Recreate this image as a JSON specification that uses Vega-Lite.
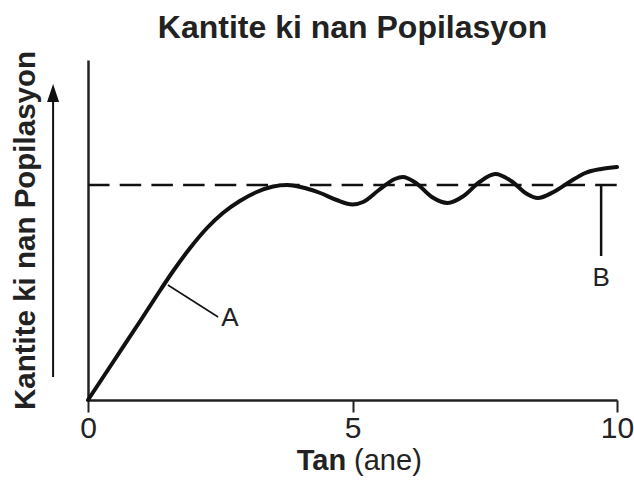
{
  "$schema": "https://vega.github.io/schema/vega-lite/v6.json",
  "autosize": "none",
  "width": 529,
  "height": 340,
  "padding": {"left": 88, "top": 60, "right": 17, "bottom": 80},
  "background": "white",
  "config": {
    "font": "Liberation Sans",
    "view": {"stroke": null},
    "title": {"color": "#222", "fontSize": 32, "fontWeight": "bold", "anchor": "middle", "offset": 6}
  },
  "title": {"text": "Kantite ki nan Popilasyon"},
  "layer": [
    {
      "data": {"values": [
        {"t": 0, "n": 0}, {"t": 0.5, "n": 40}, {"t": 1.0, "n": 80}, {"t": 1.27, "n": 102},
        {"t": 1.61, "n": 129}, {"t": 1.93, "n": 152}, {"t": 2.25, "n": 172}, {"t": 2.55, "n": 187},
        {"t": 2.87, "n": 199}, {"t": 3.19, "n": 208}, {"t": 3.5, "n": 213.5}, {"t": 3.76, "n": 215},
        {"t": 4.1, "n": 212}, {"t": 4.39, "n": 207}, {"t": 4.7, "n": 200}, {"t": 5.0, "n": 195.5},
        {"t": 5.2, "n": 198}, {"t": 5.5, "n": 210}, {"t": 5.8, "n": 221}, {"t": 5.95, "n": 223},
        {"t": 6.2, "n": 217}, {"t": 6.5, "n": 203}, {"t": 6.8, "n": 197}, {"t": 7.1, "n": 204},
        {"t": 7.4, "n": 218}, {"t": 7.7, "n": 226}, {"t": 8.0, "n": 219}, {"t": 8.3, "n": 206},
        {"t": 8.5, "n": 202}, {"t": 8.8, "n": 208}, {"t": 9.1, "n": 218}, {"t": 9.4, "n": 227},
        {"t": 9.7, "n": 231}, {"t": 10, "n": 233}
      ]},
      "mark": {"type": "line", "color": "#111", "strokeWidth": 4, "interpolate": "monotone", "strokeCap": "round"},
      "encoding": {
        "x": {"field": "t", "type": "quantitative", "scale": {"domain": [0, 10], "nice": false},
          "axis": {"title": null, "values": [0, 5, 10], "grid": false, "labelFontSize": 30, "labelColor": "#222",
            "labelPadding": 1, "tickSize": 12, "tickWidth": 2, "tickColor": "#222", "domainColor": "#222", "domainWidth": 2.5, "labelFlush": false}},
        "y": {"field": "n", "type": "quantitative", "scale": {"domain": [0, 340], "nice": false},
          "axis": {"title": "Kantite ki nan Popilasyon", "labels": false, "ticks": false, "grid": false,
            "domainColor": "#222", "domainWidth": 2.5, "titleFontSize": 29.5, "titleFontWeight": "bold", "titleColor": "#222",
            "titleX": -63, "titleY": 170, "titleAngle": 270, "titleAlign": "center", "titleBaseline": "middle"}}
      }
    },
    {
      "data": {"values": [{"t": 0, "t2": 10, "n": 215}]},
      "mark": {"type": "rule", "color": "#111", "strokeWidth": 2.5, "strokeDash": [21.5, 10.2]},
      "encoding": {"x": {"field": "t", "type": "quantitative"}, "x2": {"field": "t2"}, "y": {"field": "n", "type": "quantitative"}}
    },
    {
      "data": {"values": [{"t": 9.7, "n": 215, "n2": 144}]},
      "mark": {"type": "rule", "color": "#111", "strokeWidth": 2.5},
      "encoding": {"x": {"field": "t", "type": "quantitative"}, "y": {"field": "n", "type": "quantitative"}, "y2": {"field": "n2"}}
    },
    {
      "data": {"values": [{"t": 1.51, "n": 115, "t2": 2.46, "n2": 83}]},
      "mark": {"type": "rule", "color": "#111", "strokeWidth": 1.5},
      "encoding": {"x": {"field": "t", "type": "quantitative"}, "y": {"field": "n", "type": "quantitative"}, "x2": {"field": "t2"}, "y2": {"field": "n2"}}
    },
    {
      "data": {"values": [{"t": 2.52, "n": 82, "label": "A"}]},
      "mark": {"type": "text", "fontSize": 26, "color": "#222", "baseline": "middle", "align": "left"},
      "encoding": {"x": {"field": "t", "type": "quantitative"}, "y": {"field": "n", "type": "quantitative"}, "text": {"field": "label"}}
    },
    {
      "data": {"values": [{"t": 9.7, "n": 122, "label": "B"}]},
      "mark": {"type": "text", "fontSize": 26, "color": "#222", "baseline": "middle", "align": "center"},
      "encoding": {"x": {"field": "t", "type": "quantitative"}, "y": {"field": "n", "type": "quantitative"}, "text": {"field": "label"}}
    },
    {
      "data": {"values": [{"t": -0.66, "n": 23, "n2": 300}]},
      "mark": {"type": "rule", "color": "#111", "strokeWidth": 2},
      "encoding": {"x": {"field": "t", "type": "quantitative"}, "y": {"field": "n", "type": "quantitative"}, "y2": {"field": "n2"}}
    },
    {
      "data": {"values": [{"t": -0.66, "n": 307}]},
      "mark": {"type": "point", "shape": "M0,-1L0.67,1L-0.67,1Z", "filled": true, "color": "#111", "size": 324, "opacity": 1},
      "encoding": {"x": {"field": "t", "type": "quantitative"}, "y": {"field": "n", "type": "quantitative"}}
    },
    {
      "data": {"values": [{"t": 4.88, "n": -61, "label": "Tan"}]},
      "mark": {"type": "text", "fontSize": 29, "fontWeight": "bold", "color": "#222", "baseline": "middle", "align": "right"},
      "encoding": {"x": {"field": "t", "type": "quantitative"}, "y": {"field": "n", "type": "quantitative"}, "text": {"field": "label"}}
    },
    {
      "data": {"values": [{"t": 5.03, "n": -61, "label": "(ane)"}]},
      "mark": {"type": "text", "fontSize": 29, "color": "#222", "baseline": "middle", "align": "left"},
      "encoding": {"x": {"field": "t", "type": "quantitative"}, "y": {"field": "n", "type": "quantitative"}, "text": {"field": "label"}}
    }
  ]
}
